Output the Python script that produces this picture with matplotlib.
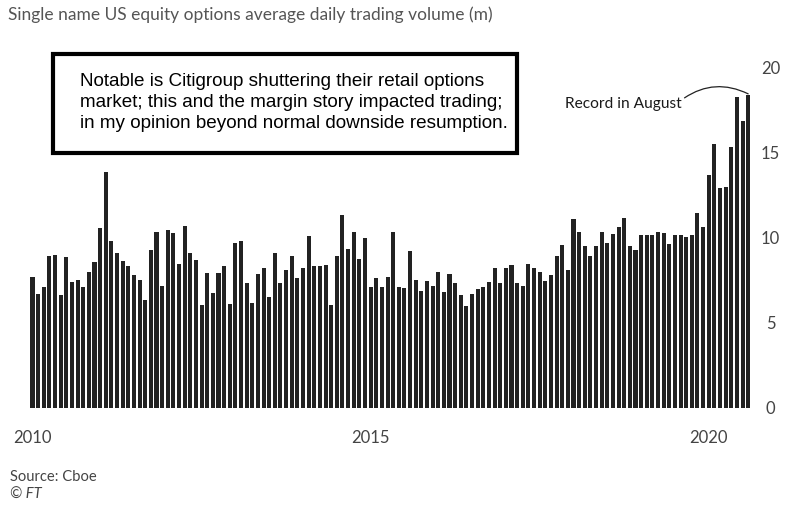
import matplotlib
matplotlib.use("Agg")
import matplotlib.pyplot as plt
import numpy as np

# Monthly average daily volume (m), Jan 2010 .. Aug 2020
volume = [
    7.7, 6.65, 7.1, 8.9, 9.0, 6.6, 8.85, 7.4, 7.5, 7.1, 8.0, 8.55,
    10.55, 13.85, 9.8, 9.1, 8.6, 8.35, 7.8, 7.5, 6.3, 9.25, 10.3, 7.15,
    10.45, 10.25, 8.45, 10.65, 9.1, 8.7, 6.05, 7.9, 6.75, 7.9, 8.3, 6.1,
    9.7, 9.8, 7.3, 6.15, 7.85, 8.2, 6.5, 9.1, 7.3, 8.1, 8.9, 7.6,
    8.2, 10.1, 8.3, 8.3, 8.4, 6.05, 8.9, 11.35, 9.3, 10.35, 8.75, 9.95,
    7.1, 7.6, 7.1, 7.65, 10.3, 7.1, 7.05, 9.2, 7.5, 6.85, 7.45, 7.15,
    8.0, 6.8, 7.85, 7.35, 6.6, 5.95, 6.7, 6.95, 7.1, 7.4, 8.2, 7.3,
    8.2, 8.4, 7.3, 7.15, 8.45, 8.2, 7.95, 7.45, 7.8, 8.9, 9.55, 8.1,
    11.1, 10.3, 9.5, 8.9, 9.5, 10.3, 9.65, 10.2, 10.6, 11.15, 9.5, 9.25,
    10.15, 10.15, 10.15, 10.3, 10.25, 9.6, 10.15, 10.15, 10.05, 10.15, 11.45, 10.6,
    13.7, 15.5, 12.9, 13.0, 15.35, 18.25, 16.85, 18.4,
]
year_labels = ["2010", "2015", "2020"]
year_months = [1, 61, 121]
y_ticks = [0, 5, 10, 15, 20]

title = "Single name US equity options average daily trading volume (m)"
note = ("Notable is Citigroup shuttering their retail options\n"
        "market; this and the margin story impacted trading;\n"
        "in my opinion beyond normal downside resumption.")
record_label = "Record in August"

W, H = 796, 512
fig = plt.figure(figsize=(W / 100, H / 100), dpi=100)
fig.patch.set_facecolor("white")

ax_left, ax_right = 29.7, 751.0
ax_bottom, ax_top = 407.5, 67.5
ax = fig.add_axes([ax_left / W, 1 - ax_bottom / H, (ax_right - ax_left) / W, (ax_bottom - ax_top) / H])

months = np.arange(1, len(volume) + 1)
ax.bar(months, volume, width=0.72, color="#222222", edgecolor="none")
ax.set_xlim(0.5, len(volume) + 0.5)
ax.set_ylim(0, 20)

for s in ax.spines.values():
    s.set_visible(False)

gray = "#444444"
ax.yaxis.tick_right()
ax.set_yticks(y_ticks)
ax.set_yticklabels([str(t) for t in y_ticks], family="Lato", fontsize=12, color=gray)
ax.tick_params(axis="y", length=0, pad=14)
for lab in ax.get_yticklabels():
    lab.set_horizontalalignment("center")

ax.set_xticks(year_months)
ax.set_xticklabels(year_labels, family="Lato", fontsize=12, color=gray)
ax.tick_params(axis="x", length=0, pad=16)

fig.text(8 / W, 1 - 15 / H, title, family="Lato", fontsize=12.5, color="#555555",
         ha="left", va="center")

fig.text(10 / W, 1 - 477 / H, "Source: Cboe", family="Lato", fontsize=10.6, color=gray,
         ha="left", va="center")
fig.text(10 / W, 1 - 495 / H, "© FT", family="Lato", fontsize=10.6, color=gray,
         style="italic", ha="left", va="center")

# annotation box
box = plt.Rectangle((53 / W, 1 - 153 / H), (517 - 53) / W, (153 - 54) / H,
                    transform=fig.transFigure, fill=False, edgecolor="black", linewidth=3)
fig.add_artist(box)
fig.text(80 / W, 1 - 102.5 / H, note, family="Liberation Sans", fontsize=13.6, color="black",
         ha="left", va="center", linespacing=1.27)

# record annotation
ax.annotate(record_label, xy=(len(volume), volume[-1] + 0.05),
            xytext=(565 / W, 1 - 104 / H), textcoords="figure fraction",
            family="Lato", fontsize=11.2, color="#1a1a1a", ha="left", va="center",
            arrowprops=dict(arrowstyle="-", color="#222222", lw=0.9,
                            connectionstyle="arc3,rad=-0.3",
                            shrinkA=0, shrinkB=0, relpos=(1.0, 0.8)))

fig.savefig("out.png", dpi=100, facecolor="white")
